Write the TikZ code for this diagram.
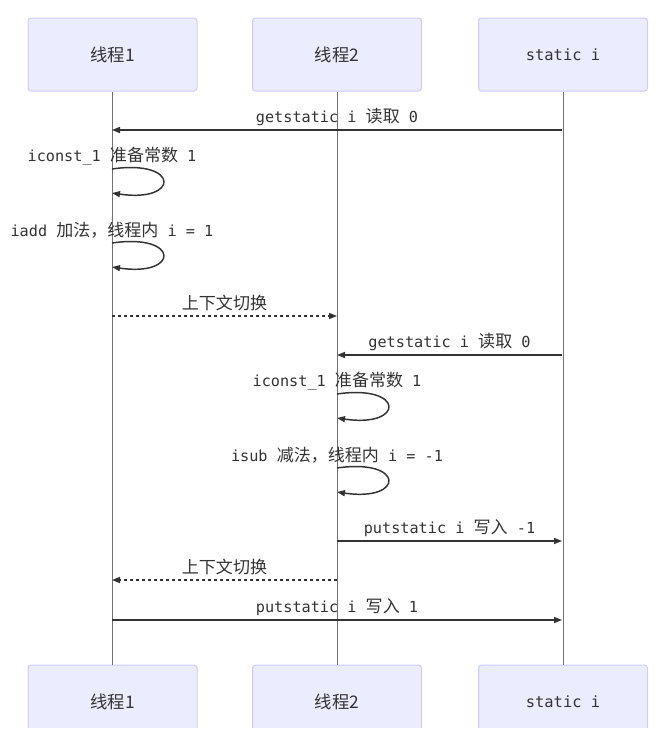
\documentclass[tikz,border=0pt]{standalone}
\usepackage{fontspec}
\setmonofont{DejaVu Sans Mono}
\newfontfamily\zhfont[Scale=1.12]{Noto Sans CJK SC}
\newcommand{\zhtext}[1]{{\zhfont #1}}
\usepackage{tikz}
\usetikzlibrary{arrows.meta,positioning}
\definecolor{actorfill}{HTML}{ECECFF}
\definecolor{actorline}{HTML}{CCCCFF}
\definecolor{signal}{HTML}{333333}
\definecolor{lifegray}{HTML}{707070}

\begin{document}
\begin{tikzpicture}[
  x=0.75pt, y=-0.75pt,
  actor/.style={draw=actorline, fill=actorfill, rounded corners=2.25pt, line width=0.75pt,
                minimum width=126.75pt, minimum height=54.75pt, inner sep=0pt,
                font=\fontsize{11.6}{13}\selectfont, text=signal},
  lifeline/.style={draw=lifegray, line width=0.75pt},
  arrow/.style={-{Triangle[length=6pt, width=4.5pt]}, draw=signal, line width=1.1pt},
  switch/.style={arrow, dash pattern=on 2.25pt off 2.25pt},
  msg/.style={font=\fontsize{11.4}{13}\selectfont\ttfamily, text=signal, inner sep=1pt}
]
\useasboundingbox (0,0) rectangle (669,743);

\node[actor] (t1) at (112.5,54.5) {\zhtext{线程1}};
\node[actor] (t2) at (337,54.5) {\zhtext{线程2}};
\node[actor] (si) at (563,54.5) {\ttfamily static i};

\begin{scope}
  \clip (0,0) rectangle (669,727);
  \node[actor] (t1b) at (112.5,701.5) {\zhtext{线程1}};
  \node[actor] (t2b) at (337,701.5) {\zhtext{线程2}};
  \node[actor] (sib) at (563,701.5) {\ttfamily static i};
\end{scope}

\draw[lifeline] (t1) -- (t1b);
\draw[lifeline] (t2) -- (t2b);
\draw[lifeline] (si) -- (sib);

% points on the lifelines
\coordinate (get1s) at (562,130);  \coordinate (get1e) at (112,130);
\coordinate (ic1s) at (112,169);   \coordinate (ic1e) at (112,193);
\coordinate (add1s) at (112,243);  \coordinate (add1e) at (112,267);
\coordinate (sw1s) at (112,316);   \coordinate (sw1e) at (337,316);
\coordinate (get2s) at (562,355);  \coordinate (get2e) at (337,355);
\coordinate (ic2s) at (337,394);   \coordinate (ic2e) at (337,418);
\coordinate (sub2s) at (337,468);  \coordinate (sub2e) at (337,492);
\coordinate (put2s) at (337,541);  \coordinate (put2e) at (562,541);
\coordinate (sw2s) at (337,580);   \coordinate (sw2e) at (112,580);
\coordinate (put1s) at (112,620);  \coordinate (put1e) at (562,620);

\draw[arrow] (get1s) -- node[msg, above=2pt] {getstatic i \zhtext{读取} 0} (get1e);

\node[msg, above=2pt of ic1s] (ic1) {iconst\_1 \zhtext{准备常数} 1};
\draw[arrow] (ic1s) .. controls +(68,-10) and +(68,10) .. (ic1e);

\node[msg, above=2pt of add1s] (add1) {iadd \zhtext{加法，线程内} i = 1};
\draw[arrow] (add1s) .. controls +(68,-10) and +(68,10) .. (add1e);

\draw[switch] (sw1s) -- node[msg, above=2pt] {\zhtext{上下文切换}} (sw1e);

\draw[arrow] (get2s) -- node[msg, above=2pt] {getstatic i \zhtext{读取} 0} (get2e);

\node[msg, above=2pt of ic2s] (ic2) {iconst\_1 \zhtext{准备常数} 1};
\draw[arrow] (ic2s) .. controls +(68,-10) and +(68,10) .. (ic2e);

\node[msg, above=2pt of sub2s] (sub2) {isub \zhtext{减法，线程内} i = -1};
\draw[arrow] (sub2s) .. controls +(68,-10) and +(68,10) .. (sub2e);

\draw[arrow] (put2s) -- node[msg, above=2pt] {putstatic i \zhtext{写入} -1} (put2e);

\draw[switch] (sw2s) -- node[msg, above=2pt] {\zhtext{上下文切换}} (sw2e);

\draw[arrow] (put1s) -- node[msg, above=2pt] {putstatic i \zhtext{写入} 1} (put1e);
\end{tikzpicture}
\end{document}
